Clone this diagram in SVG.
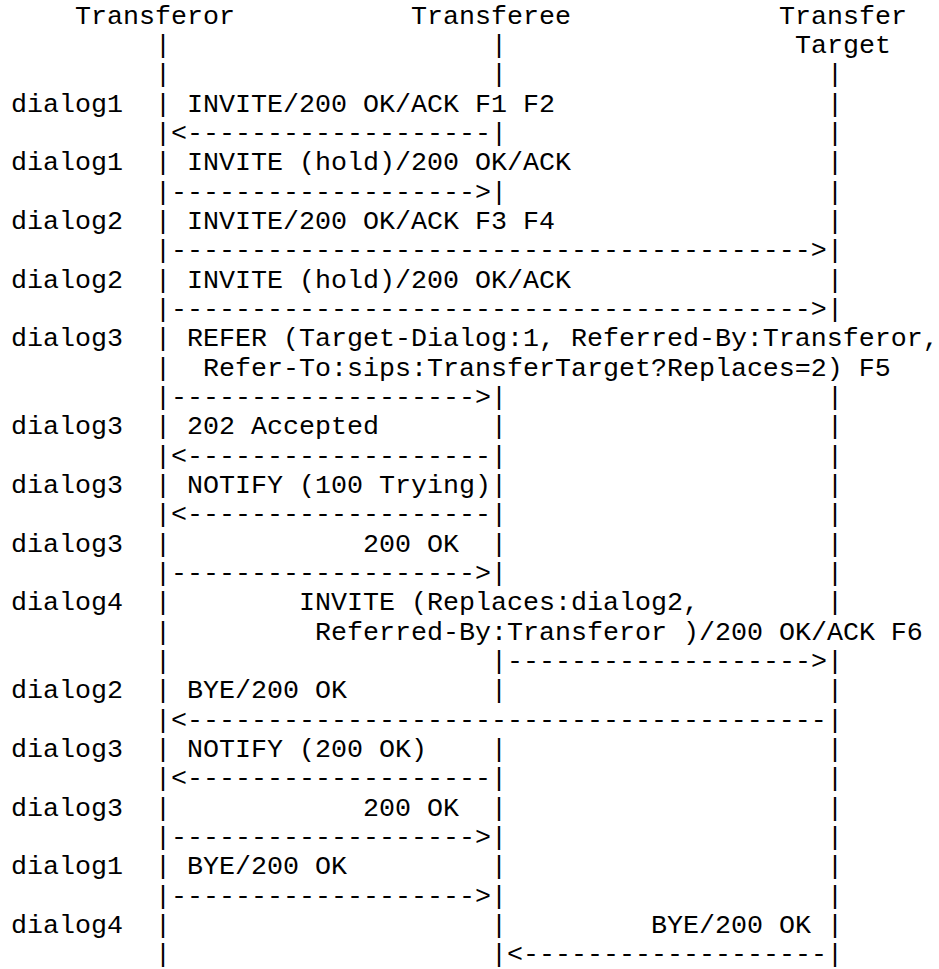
<svg xmlns="http://www.w3.org/2000/svg" width="939" height="969" viewBox="0 0 939 969">
<style>
text { font-family: "Liberation Mono", "Courier New", monospace; font-size: 26.667px; fill: #000; white-space: pre; }
</style>
<rect width="939" height="969" fill="#fff"/>
<g transform="translate(0,-2)">
<g id="transferor">
<text x="75" y="25.5">Transferor</text>
<text><tspan x="155" y="54.83">|</tspan><tspan x="155" y="84.17">|</tspan><tspan x="155" y="113.5">|</tspan><tspan x="155" y="142.83">|</tspan><tspan x="155" y="172.17">|</tspan><tspan x="155" y="201.5">|</tspan><tspan x="155" y="230.83">|</tspan><tspan x="155" y="260.17">|</tspan><tspan x="155" y="289.5">|</tspan><tspan x="155" y="318.83">|</tspan><tspan x="155" y="348.17">|</tspan><tspan x="155" y="377.5">|</tspan><tspan x="155" y="406.83">|</tspan><tspan x="155" y="436.17">|</tspan><tspan x="155" y="465.5">|</tspan><tspan x="155" y="494.83">|</tspan><tspan x="155" y="524.17">|</tspan><tspan x="155" y="553.5">|</tspan><tspan x="155" y="582.83">|</tspan><tspan x="155" y="612.17">|</tspan><tspan x="155" y="641.5">|</tspan><tspan x="155" y="670.83">|</tspan><tspan x="155" y="700.17">|</tspan><tspan x="155" y="729.5">|</tspan><tspan x="155" y="758.83">|</tspan><tspan x="155" y="788.17">|</tspan><tspan x="155" y="817.5">|</tspan><tspan x="155" y="846.83">|</tspan><tspan x="155" y="876.17">|</tspan><tspan x="155" y="905.5">|</tspan><tspan x="155" y="934.83">|</tspan><tspan x="155" y="964.17">|</tspan></text>
</g>
<g id="transferee">
<text x="411" y="25.5">Transferee</text>
<text><tspan x="491" y="54.83">|</tspan><tspan x="491" y="84.17">|</tspan><tspan x="491" y="142.83">|</tspan><tspan x="491" y="201.5">|</tspan><tspan x="491" y="406.83">|</tspan><tspan x="491" y="436.17">|</tspan><tspan x="491" y="465.5">|</tspan><tspan x="491" y="494.83">|</tspan><tspan x="491" y="524.17">|</tspan><tspan x="491" y="553.5">|</tspan><tspan x="491" y="582.83">|</tspan><tspan x="491" y="670.83">|</tspan><tspan x="491" y="700.17">|</tspan><tspan x="491" y="758.83">|</tspan><tspan x="491" y="788.17">|</tspan><tspan x="491" y="817.5">|</tspan><tspan x="491" y="846.83">|</tspan><tspan x="491" y="876.17">|</tspan><tspan x="491" y="905.5">|</tspan><tspan x="491" y="934.83">|</tspan><tspan x="491" y="964.17">|</tspan></text>
</g>
<g id="transfer-target">
<text x="779" y="25.5">Transfer</text>
<text x="795" y="54.83">Target</text>
<text><tspan x="827" y="84.17">|</tspan><tspan x="827" y="113.5">|</tspan><tspan x="827" y="142.83">|</tspan><tspan x="827" y="172.17">|</tspan><tspan x="827" y="201.5">|</tspan><tspan x="827" y="230.83">|</tspan><tspan x="827" y="260.17">|</tspan><tspan x="827" y="289.5">|</tspan><tspan x="827" y="318.83">|</tspan><tspan x="827" y="406.83">|</tspan><tspan x="827" y="436.17">|</tspan><tspan x="827" y="465.5">|</tspan><tspan x="827" y="494.83">|</tspan><tspan x="827" y="524.17">|</tspan><tspan x="827" y="553.5">|</tspan><tspan x="827" y="582.83">|</tspan><tspan x="827" y="612.17">|</tspan><tspan x="827" y="670.83">|</tspan><tspan x="827" y="700.17">|</tspan><tspan x="827" y="729.5">|</tspan><tspan x="827" y="758.83">|</tspan><tspan x="827" y="788.17">|</tspan><tspan x="827" y="817.5">|</tspan><tspan x="827" y="846.83">|</tspan><tspan x="827" y="876.17">|</tspan><tspan x="827" y="905.5">|</tspan><tspan x="827" y="934.83">|</tspan><tspan x="827" y="964.17">|</tspan></text>
</g>
<g id="connectors">
<text x="171" y="142.83">&lt;-------------------</text>
<text x="171" y="201.5">-------------------&gt;</text>
<text x="171" y="260.17">----------------------------------------&gt;</text>
<text x="171" y="318.83">----------------------------------------&gt;</text>
<text x="171" y="406.83">-------------------&gt;</text>
<text x="171" y="465.5">&lt;-------------------</text>
<text x="171" y="524.17">&lt;-------------------</text>
<text x="171" y="582.83">-------------------&gt;</text>
<text x="507" y="670.83">-------------------&gt;</text>
<text x="171" y="729.5">&lt;----------------------------------------</text>
<text x="171" y="788.17">&lt;-------------------</text>
<text x="171" y="846.83">-------------------&gt;</text>
<text x="171" y="905.5">-------------------&gt;</text>
<text x="507" y="964.17">&lt;-------------------</text>
</g>
<g id="dialog-labels">
<text x="11" y="113.5">dialog1</text>
<text x="11" y="172.17">dialog1</text>
<text x="11" y="230.83">dialog2</text>
<text x="11" y="289.5">dialog2</text>
<text x="11" y="348.17">dialog3</text>
<text x="11" y="436.17">dialog3</text>
<text x="11" y="494.83">dialog3</text>
<text x="11" y="553.5">dialog3</text>
<text x="11" y="612.17">dialog4</text>
<text x="11" y="700.17">dialog2</text>
<text x="11" y="758.83">dialog3</text>
<text x="11" y="817.5">dialog3</text>
<text x="11" y="876.17">dialog1</text>
<text x="11" y="934.83">dialog4</text>
</g>
<g id="message-labels">
<text x="187" y="113.5">INVITE/200 OK/ACK F1 F2</text>
<text x="187" y="172.17">INVITE (hold)/200 OK/ACK</text>
<text x="187" y="230.83">INVITE/200 OK/ACK F3 F4</text>
<text x="187" y="289.5">INVITE (hold)/200 OK/ACK</text>
<text x="187" y="348.17">REFER (Target-Dialog:1, Referred-By:Transferor,</text>
<text x="203" y="377.5">Refer-To:sips:TransferTarget?Replaces=2) F5</text>
<text x="187" y="436.17">202 Accepted</text>
<text x="187" y="494.83">NOTIFY (100 Trying)</text>
<text x="363" y="553.5">200 OK</text>
<text x="299" y="612.17">INVITE (Replaces:dialog2,</text>
<text x="315" y="641.5">Referred-By:Transferor )/200 OK/ACK F6</text>
<text x="187" y="700.17">BYE/200 OK</text>
<text x="187" y="758.83">NOTIFY (200 OK)</text>
<text x="363" y="817.5">200 OK</text>
<text x="187" y="876.17">BYE/200 OK</text>
<text x="651" y="934.83">BYE/200 OK</text>
</g>
</g>
</svg>
